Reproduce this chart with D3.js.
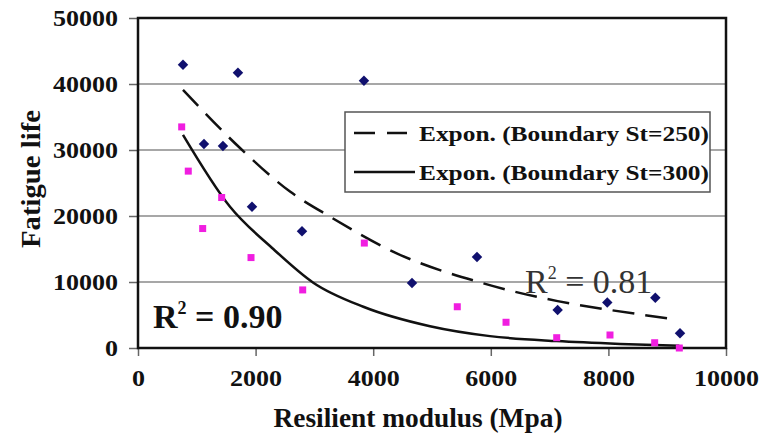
<!DOCTYPE html>
<meta charset="utf-8">
<title>Fatigue life vs resilient modulus</title>
<script src="https://d3js.org/d3.v7.min.js"></script>
<style>
  body { margin: 0; background: white; }
</style>
<div id="chart"></div>
<script>
// points
var modulusSt250 = [765, 1122, 1445, 1700, 1939, 2789, 3843, 4660, 5765, 7137, 7981, 8798, 9218];
var lifeSt250    = [42900, 30900, 30600, 41700, 21400, 17700, 40500, 9850, 13800, 5750, 6900, 7600, 2230];

var modulusSt300 = [743, 855, 1100, 1423, 1922, 2801, 3849, 5430, 6259, 7121, 8027, 8787, 9206];
var lifeSt300    = [33500, 26800, 18100, 22800, 13700, 8800, 15900, 6250, 3900, 1560, 1970, 800, 0];

// trend lines
var trend250X = [765, 1735, 2585, 3265, 4400, 5872, 7137, 8000, 9100];
var trend250Y = [39100, 30300, 23700, 19900, 14350, 9800, 7100, 5800, 4400];
var trend300X = [765, 1565, 2301, 2981, 3832, 4966, 5986, 7121, 8200, 9206];
var trend300Y = [32300, 21400, 15000, 9900, 6250, 3300, 1800, 1050, 620, 350];

var xTicks = [0, 2000, 4000, 6000, 8000, 10000];
var yTicks = [0, 10000, 20000, 30000, 40000, 50000];
var legendLabels = ["Expon. (Boundary St=250)", "Expon. (Boundary St=300)"];
var r2Labels = ["0.90", "0.81"];

var FONT = "'Liberation Serif', 'DejaVu Serif', serif";

var W = 763, H = 438;
var svg = d3.select("#chart").append("svg")
    .attr("width", W).attr("height", H)
    .style("font-family", FONT);

var x = d3.scaleLinear().domain([0, 10000]).range([138, 726]);
var y = d3.scaleLinear().domain([0, 50000]).range([348, 18]);

function txt(sel, size, weight) {
  return sel.style("font-family", FONT)
    .style("font-size", size + "px")
    .style("font-weight", weight || "bold");
}

// gridlines
svg.append("g")
  .selectAll("line")
  .data(yTicks.slice(1, -1))
  .enter().append("line")
    .attr("x1", x(0)).attr("x2", x(10000))
    .attr("y1", function(d){ return y(d) }).attr("y2", function(d){ return y(d) })
    .attr("stroke", "#8a8a8a").attr("stroke-width", 1.5);

// axes
var yAxis = svg.append("g")
    .attr("transform", "translate(" + x(0) + ",0)")
    .call(d3.axisLeft(y).tickValues(yTicks).tickSize(9).tickPadding(11).tickFormat(d3.format("d")));
var xAxis = svg.append("g")
    .attr("transform", "translate(0," + y(0) + ")")
    .call(d3.axisBottom(x).tickValues(xTicks).tickSize(8).tickPadding(14).tickFormat(d3.format("d")));
[xAxis, yAxis].forEach(function(a){
  a.attr("font-family", null).attr("font-size", null);
  a.select(".domain").remove();
  a.selectAll("line").attr("stroke", "#666").attr("stroke-width", 1.5);
  txt(a.selectAll("text"), 23).attr("fill", "#111")
    .attr("textLength", function(d){ return String(d).length * 13 })
    .attr("lengthAdjust", "spacingAndGlyphs");
});

// plot frame
svg.append("rect")
    .attr("x", x(0)).attr("y", y(50000))
    .attr("width", x(10000) - x(0)).attr("height", y(0) - y(50000))
    .attr("fill", "none").attr("stroke", "#111").attr("stroke-width", 2.5);

// trend lines
var line = d3.line()
    .x(function(d){ return x(d[0]) })
    .y(function(d){ return y(d[1]) })
    .curve(d3.curveMonotoneX);

svg.append("path")
    .datum(d3.zip(trend250X, trend250Y))
    .attr("d", line)
    .attr("fill", "none").attr("stroke", "#111").attr("stroke-width", 2.5)
    .attr("stroke-dasharray", "22,11");
svg.append("path")
    .datum(d3.zip(trend300X, trend300Y))
    .attr("d", line)
    .attr("fill", "none").attr("stroke", "#111").attr("stroke-width", 2.5);

// points
svg.append("g")
  .selectAll("path")
  .data(d3.zip(modulusSt250, lifeSt250))
  .enter().append("path")
    .attr("d", d3.symbol().type(d3.symbolDiamond2).size(70))
    .attr("transform", function(d){ return "translate(" + x(d[0]) + "," + y(d[1]) + ")" })
    .attr("fill", "#10106e");
svg.append("g")
  .selectAll("rect")
  .data(d3.zip(modulusSt300, lifeSt300))
  .enter().append("rect")
    .attr("x", function(d){ return x(d[0]) - 3.5 })
    .attr("y", function(d){ return y(d[1]) - 3.5 })
    .attr("width", 7).attr("height", 7)
    .attr("fill", "#f01ee0");

// R squared labels
var r2 = txt(svg.append("text"), 34)
    .attr("x", 153).attr("y", 328)
    .attr("fill", "#111");
r2.append("tspan").text("R");
r2.append("tspan").attr("dy", -14).style("font-size", "18px").text("2");
r2.append("tspan").attr("dy", 14).text(" = " + r2Labels[0]);

var r2b = txt(svg.append("text"), 34, "normal")
    .attr("x", 525).attr("y", 293)
    .attr("fill", "#333");
r2b.append("tspan").text("R");
r2b.append("tspan").attr("dy", -14).style("font-size", "18px").text("2");
r2b.append("tspan").attr("dy", 14).text(" = " + r2Labels[1]);

// legend
var legend = svg.append("g");
legend.append("rect")
    .attr("x", 345).attr("y", 112).attr("width", 365).attr("height", 80)
    .attr("fill", "white").attr("stroke", "#555").attr("stroke-width", 1.5);
legend.selectAll("line")
  .data(legendLabels)
  .enter().append("line")
    .attr("x1", 354).attr("x2", function(d, i){ return i == 0 ? 407 : 415 })
    .attr("y1", function(d, i){ return 133 + i * 39 })
    .attr("y2", function(d, i){ return 133 + i * 39 })
    .attr("stroke", "#111").attr("stroke-width", 2.5)
    .attr("stroke-dasharray", function(d, i){ return i == 0 ? "21,12" : null });
txt(legend.selectAll("text")
  .data(legendLabels)
  .enter().append("text"), 21)
    .attr("x", 419)
    .attr("y", function(d, i){ return 141 + i * 39 })
    .attr("fill", "#111")
    .attr("textLength", 290).attr("lengthAdjust", "spacingAndGlyphs")
    .text(function(d){ return d });

// axis titles
txt(svg.append("text"), 28)
    .attr("text-anchor", "middle")
    .attr("x", 418).attr("y", 427)
    .attr("fill", "#111")
    .attr("textLength", 289).attr("lengthAdjust", "spacingAndGlyphs")
    .text("Resilient modulus (Mpa)");
txt(svg.append("text"), 28)
    .attr("text-anchor", "middle")
    .attr("transform", "translate(40,179) rotate(-90)")
    .attr("fill", "#111")
    .attr("textLength", 138).attr("lengthAdjust", "spacingAndGlyphs")
    .text("Fatigue life");
</script>
